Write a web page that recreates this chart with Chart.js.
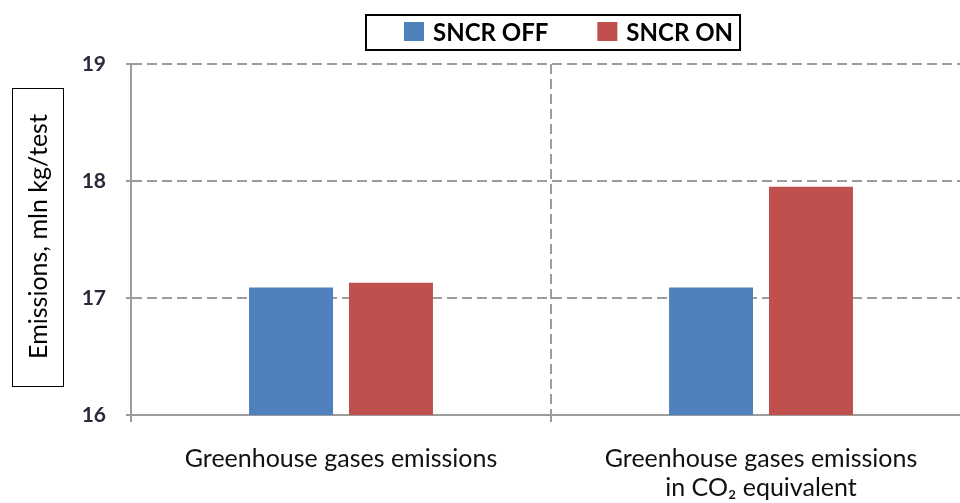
<!DOCTYPE html>
<html>
<head>
<meta charset="utf-8">
<script src="https://cdn.jsdelivr.net/npm/chart.js@4.4.1/dist/chart.umd.min.js"></script>
<style>
  html, body { margin: 0; padding: 0; background: #fff; overflow: hidden; }
  #wrap { width: 975px; height: 503px; }
</style>
</head>
<body>
<div id="wrap"><canvas id="c" width="975" height="503"></canvas></div>
<script>
// Category labels (second one wraps onto two lines)
const categories = [
  'Greenhouse gases emissions',
  ['Greenhouse gases emissions', 'in CO\u2082 equivalent']
];
const seriesNames = ['SNCR OFF', 'SNCR ON'];
const sncrOff = [17.09, 17.09];
const sncrOn = [17.13, 17.95];
const yTickValues = [16, 17, 18, 19];
const yTitle = 'Emissions, mln kg/test';
const seriesColors = ['#4f81bd', '#c0504d'];

const GRID = '#9c9c9c';

// Framed legend drawn above the plot, centred on the plot area
const framedLegend = {
  id: 'framedLegend',
  afterDraw(chart) {
    const { ctx, chartArea } = chart;
    ctx.save();
    ctx.font = 'bold 24px Lato';
    const sw = 20, sh = 19, textGap = 9, itemGap = 49, padL = 39, padR = 8, bh = 37;
    const items = chart.data.datasets.map(d => ({
      label: d.label, color: d.backgroundColor, w: ctx.measureText(d.label).width
    }));
    const content = items.reduce((s, it) => s + sw + textGap + it.w, 0) + itemGap * (items.length - 1);
    const bw = content + padL + padR;
    const cx = (chartArea.left + chartArea.right) / 2 + 2;
    const bx = Math.round(cx - bw / 2), by = 14;
    ctx.fillStyle = '#fff';
    ctx.fillRect(bx, by, bw, bh);
    ctx.strokeStyle = '#000';
    ctx.lineWidth = 2;
    ctx.strokeRect(bx + 1, by + 1, bw - 2, bh - 2);
    let x = bx + padL;
    const my = by + bh / 2;
    ctx.textBaseline = 'middle';
    ctx.textAlign = 'left';
    items.forEach(it => {
      ctx.fillStyle = it.color;
      ctx.fillRect(x, Math.round(my - sh / 2) - 1, sw, sh);
      x += sw + textGap;
      ctx.fillStyle = '#000';
      ctx.fillText(it.label, x, my + 1);
      x += it.w + itemGap;
    });
    ctx.restore();
  }
};

// Boxed, rotated y-axis title at the far left
const boxedAxisTitle = {
  id: 'boxedAxisTitle',
  afterDraw(chart) {
    const { ctx, chartArea } = chart;
    const bx = 12, bw = 51, bh = 298;
    const cy = (chartArea.top + chartArea.bottom) / 2 - 3;
    const by = Math.round(cy - bh / 2);
    ctx.save();
    ctx.strokeStyle = '#000';
    ctx.lineWidth = 1;
    ctx.strokeRect(bx + 0.5, by + 0.5, bw, bh);
    ctx.translate(bx + bw / 2 + 1, cy);
    ctx.rotate(-Math.PI / 2);
    ctx.font = '25px Lato';
    ctx.fillStyle = '#000';
    ctx.textAlign = 'center';
    ctx.textBaseline = 'middle';
    ctx.fillText(yTitle, 0, 0);
    ctx.restore();
  }
};

new Chart(document.getElementById('c'), {
  type: 'bar',
  data: {
    labels: categories,
    datasets: [
      { label: seriesNames[0], data: sncrOff, backgroundColor: seriesColors[0], borderWidth: 0 },
      { label: seriesNames[1], data: sncrOn, backgroundColor: seriesColors[1], borderWidth: 0 }
    ]
  },
  options: {
    responsive: false,
    animation: false,
    devicePixelRatio: 1,
    categoryPercentage: 0.476,
    barPercentage: 0.84,
    layout: { padding: { top: 64, left: 0, right: 4, bottom: 0 } },
    plugins: {
      legend: { display: false },
      tooltip: { enabled: false }
    },
    scales: {
      x: {
        grid: {
          offset: true,
          color: GRID,
          lineWidth: 2,
          tickLength: 7,
          tickBorderDash: [],
          tickColor: GRID,
          tickWidth: 2
        },
        border: { display: true, color: GRID, width: 2, dash: [10, 5] },
        ticks: {
          color: '#111',
          font: { family: 'Lato', size: 25, lineHeight: 1.14 },
          padding: 23,
          maxRotation: 0,
          autoSkip: false
        },
        afterFit(scale) { scale.height = 88; }
      },
      y: {
        min: 16,
        max: 19,
        afterBuildTicks(scale) { scale.ticks = yTickValues.map(v => ({ value: v })); },
        grid: {
          color: GRID,
          lineWidth: 2,
          tickLength: 5,
          tickBorderDash: [],
          tickColor: GRID,
          tickWidth: 2
        },
        border: { display: true, color: GRID, width: 2, dash: [10, 5] },
        ticks: {
          color: '#2a2a3a',
          font: { family: 'Lato', size: 21, weight: 'bold' },
          padding: 20
        },
        afterFit(scale) { scale.width = 131; }
      }
    }
  },
  plugins: [framedLegend, boxedAxisTitle]
});
</script>
</body>
</html>
